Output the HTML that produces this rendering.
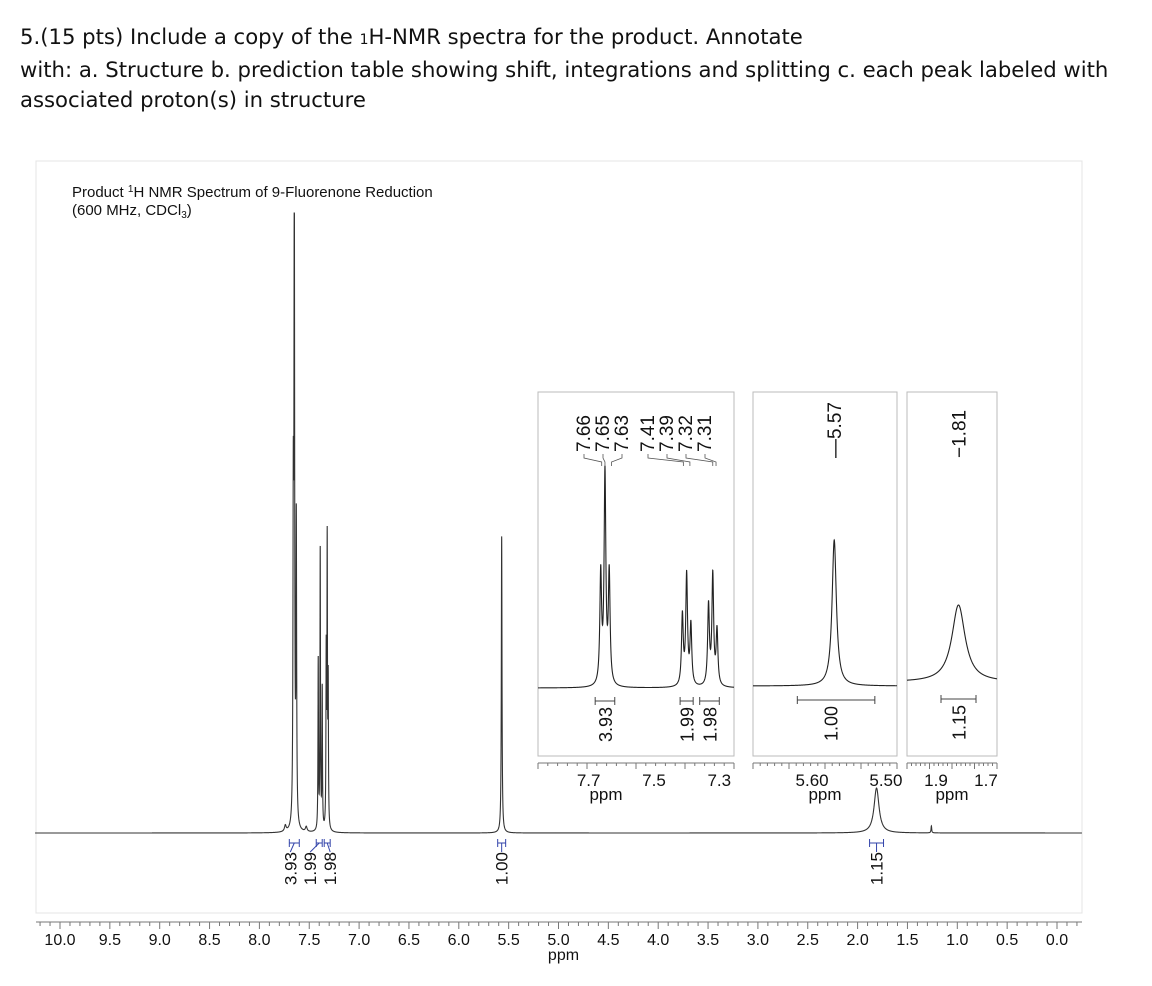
<!DOCTYPE html>
<html><head><meta charset="utf-8"><style>
body{margin:0;background:#fff;width:1152px;height:986px;overflow:hidden;font-family:"Liberation Sans",sans-serif}
.q{position:absolute;left:20px;font-family:"DejaVu Sans","Liberation Sans",sans-serif;font-size:21.2px;color:#111;line-height:30px}
</style></head><body>
<div class="q" style="top:22px;width:1130px">5.(15 pts) Include a copy of the <span style="font-size:14px">1</span>H-NMR spectra for the product. Annotate<br>with: a. Structure b. prediction table showing shift, integrations and splitting c. each peak labeled with<br>associated proton(s) in structure</div>
<svg id="c" width="1152" height="986" style="position:absolute;left:0;top:0" font-family="Liberation Sans, sans-serif"></svg>
<script>
// main spectrum peaks (ppm, height in px above baseline, half-width ppm)
const mainShifts=[7.66,7.65,7.63,7.41,7.39,7.37,7.33,7.32,7.31,5.57,1.81,1.26,7.74,7.53];
const mainHeights=[300,640,300,170,280,140,170,280,140,297,45,7,6,5];
const mainWidths=[0.004,0.004,0.004,0.003,0.003,0.003,0.003,0.003,0.003,0.004,0.03,0.004,0.01,0.01];
const mainTicks=[10.0,9.5,9.0,8.5,8.0,7.5,7.0,6.5,6.0,5.5,5.0,4.5,4.0,3.5,3.0,2.5,2.0,1.5,1.0,0.5,0.0];
const mainIntegrals=[{p:7.65,a:0.05,label:"3.93"},{p:7.40,a:0.03,label:"1.99"},{p:7.32,a:0.03,label:"1.98"},{p:5.57,a:0.04,label:"1.00"},{p:1.81,a:0.07,label:"1.15"}];
// inset 1 (aromatic)
const in1Shifts=[7.663,7.65,7.637,7.413,7.40,7.387,7.333,7.32,7.307];
const in1Heights=[110,210,110,70,110,60,80,110,55];
const in1Ticks=[7.7,7.5,7.3];
const in1Labels=["7.66","7.65","7.63","7.41","7.39","7.32","7.31"];
const in1Int=[{a:7.68,b:7.62,m:7.65,label:"3.93"},{a:7.42,b:7.38,m:7.40,label:"1.99"},{a:7.36,b:7.30,m:7.33,label:"1.98"}];
// inset 2
const in2Shifts=[5.57];const in2Heights=[146];const in2Ticks=[5.60,5.50];
// inset 3
const in3Shifts=[1.81];const in3Heights=[77];const in3Ticks=[1.9,1.7];

const NS="http://www.w3.org/2000/svg",svg=document.getElementById('c');
function mk(t,a,p){const e=document.createElementNS(NS,t);for(const k in a)e.setAttribute(k,a[k]);(p||svg).appendChild(e);return e}
function txt(s,x,y,sz,rot,p,col){const e=mk('text',{x:x,y:y,'font-size':sz,fill:col||'#111','text-anchor':'middle'},p);if(rot)e.setAttribute('transform','rotate(-90 '+x+' '+y+')');e.textContent=s;return e}
function lor(p,c,w){const d=(p-c)/w;return 1/(1+d*d)}
function spectrum(xf,p0,p1,base,shifts,heights,widths,lw,name){let d='';const n=20000;for(let i=0;i<=n;i++){const p=p0+(p1-p0)*i/n;let y=0;for(let k=0;k<shifts.length;k++)y+=heights[k]*lor(p,shifts[k],widths[k]);d+=(i?'L':'M')+xf(p).toFixed(2)+' '+(base-Math.min(y,base-213)).toFixed(2)}const e=mk('path',{d:d,fill:'none',stroke:'#333','stroke-width':lw});}
// frame
const fr=mk('rect',{x:36,y:161,width:1046,height:752,fill:'none',stroke:'#e4e4e4'});

const t1=mk('text',{x:72,y:197,'font-size':15,fill:'#111'});t1.innerHTML='Product <tspan dy="-5" font-size="10">1</tspan><tspan dy="5">H NMR Spectrum of 9-Fluorenone Reduction</tspan>';

const t2=mk('text',{x:72,y:215,'font-size':15,fill:'#111'});t2.innerHTML='(600 MHz, CDCl<tspan dy="3" font-size="10">3</tspan><tspan dy="-3">)</tspan>';

// main axis
const X=p=>1057-p*99.7, BASE=833;
spectrum(X,10.25,-0.25,BASE,mainShifts,mainHeights,mainWidths,1.1,'main-spectrum');
mk('line',{x1:36,x2:1082,y1:922,y2:922,stroke:'#777'});
for(let p=10.2;p>=-0.2;p-=0.1){const v=Math.round(p*10)/10;const maj=Math.abs(v*2-Math.round(v*2))<1e-6;mk('line',{x1:X(v),x2:X(v),y1:922,y2:maj?929:926,stroke:'#777'})}
mainTicks.forEach(t=>{const e=txt(t.toFixed(1),X(t),945,16);});
const xl=txt('ppm',X(4.95),960,16);
// main integrals
mainIntegrals.forEach(g=>{let x=X(g.p),tx=x;if(g.label==="3.93")tx=x-4;if(g.label==="1.99")tx=x-9;if(g.label==="1.98")tx=x+3;
mk('line',{x1:X(g.p+g.a),x2:X(g.p-g.a),y1:843,y2:843,stroke:'#3344aa'});
mk('line',{x1:X(g.p+g.a),x2:X(g.p+g.a),y1:839,y2:847,stroke:'#3344aa'});mk('line',{x1:X(g.p-g.a),x2:X(g.p-g.a),y1:839,y2:847,stroke:'#3344aa'});
mk('line',{x1:x,x2:tx,y1:843,y2:852,stroke:'#3344aa'});
const e=txt(g.label,tx+6,852,17,false);e.setAttribute('text-anchor','end');e.setAttribute('transform','rotate(-90 '+(tx+6)+' 852)');});
// insets
function inset(name,x0,x1,p0,p1,base,shifts,heights,w,ticks,fmt,lab){
 const xf=p=>x0+(p0-p)/(p0-p1)*(x1-x0);
 const g=mk('g',{});
 mk('rect',{x:x0,y:392,width:x1-x0,height:364,fill:'#fff',stroke:'#bbb'},g);
 let d='';for(let i=0;i<=1500;i++){const p=p0+(p1-p0)*i/1500;let y=0;shifts.forEach((s,k)=>y+=heights[k]*lor(p,s,w));d+=(i?'L':'M')+xf(p).toFixed(2)+' '+(base-y).toFixed(2)}
 mk('path',{d:d,fill:'none',stroke:'#222','stroke-width':1.1},g);
 mk('line',{x1:x0,x2:x1,y1:763,y2:763,stroke:'#777'},g);
 for(let i=0;i<=20;i++){const xx=x0+i*(x1-x0)/20;mk('line',{x1:xx,x2:xx,y1:763,y2:i%5==0?769:766,stroke:'#777'},g)}
 ticks.forEach(t=>txt(t.toFixed(fmt),xf(t),786,17,false,g));
 txt('ppm',(x0+x1)/2+lab,800,17,false,g);
 return xf;}
const f1=inset('inset-aromatic',538,734,7.855,7.255,688,in1Shifts,in1Heights,0.0032,in1Ticks,1,-30);
const f2=inset('inset-5-57',753,897,5.680,5.485,686,in2Shifts,in2Heights,0.0035,in2Ticks,2,0);
const f3=inset('inset-1-81',907,997,2.016,1.656,682,in3Shifts,in3Heights,0.032,in3Ticks,1,0);
// inset peak labels
in1Labels.forEach((l,i)=>{const x=584+i*19+(i>2?7:0);const e=txt(l,x+6,452,19,true);e.setAttribute('text-anchor','start');
 const pv=parseFloat(l);mk('path',{d:'M'+x+' 454 L'+x+' 458 L'+f1(pv)+' 462 L'+f1(pv)+' 466',fill:'none',stroke:'#555','stroke-width':0.8})});
[[f2,5.57,"\u20145.57"],[f3,1.81,"\u22121.81"]].forEach(([f,p,l])=>{const e=txt(l,f(p)+7,458,19,true);e.setAttribute('text-anchor','start');});
// inset integrals
function iint(f,a,b,m,label,y){mk('line',{x1:f(a),x2:f(b),y1:y,y2:y,stroke:'#444'});[a,b].forEach(v=>mk('line',{x1:f(v),x2:f(v),y1:y-4,y2:y+4,stroke:'#444'}));
 const x=f(m)+7,e=txt(label,x,y+6,18,true);e.setAttribute('text-anchor','end');}
in1Int.forEach(g=>iint(f1,g.a,g.b,g.m,g.label,701));
iint(f2,5.62,5.515,5.575,"1.00",700);
iint(f3,1.88,1.74,1.81,"1.15",699);
</script>
</body></html>
